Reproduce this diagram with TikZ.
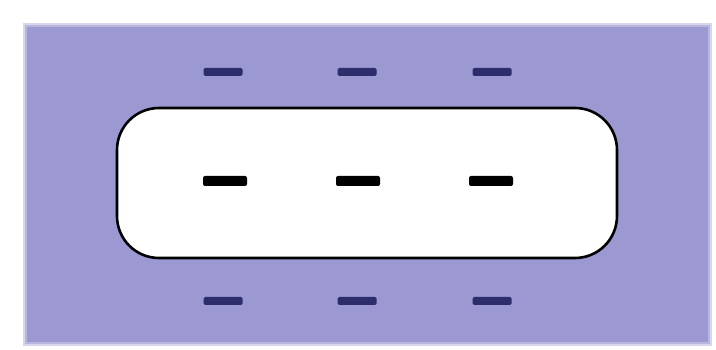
\documentclass[tikz,border=0pt]{standalone}
\definecolor{bandfill}{HTML}{9C98D2}
\definecolor{outercharge}{HTML}{2E2D6B}
\tikzset{
  x=1pt, y=-1pt,
  band/.style={fill=bandfill, draw=none},
  channel/.style={draw=black, line width=2.6pt, fill=white, rounded corners=42pt,
    minimum width=500pt, minimum height=150pt, inner sep=0pt},
  innercharge/.style={fill=black, rounded corners=2pt, minimum width=44pt,
    minimum height=10pt, inner sep=0pt},
  outercharge/.style={fill=outercharge, rounded corners=1.5pt, minimum width=39pt,
    minimum height=8pt, inner sep=0pt}
}
\begin{document}
\begin{tikzpicture}
  \useasboundingbox (0,0) rectangle (716,350);
  \fill[white] (0,0) rectangle (716,350);
  % soft-edged coloured slab
  \fill[bandfill!40] (23,23) rectangle (712,346);
  \fill[bandfill!70] (25,25) rectangle (710,344);
  \fill[bandfill] (27,27) rectangle (708,342);
  % white channel with rounded ends
  \node[channel] (chan) at (367,183) {};
  % charges inside the channel
  \node[innercharge] (i1) at (225,181) {};
  \node[innercharge] (i2) at (358,181) {};
  \node[innercharge] (i3) at (491,181) {};
  % charges above and below
  \node[outercharge] (a1) at (223,72) {};
  \node[outercharge] (a2) at (357,72) {};
  \node[outercharge] (a3) at (492,72) {};
  \node[outercharge] (b1) at (223,301) {};
  \node[outercharge] (b2) at (357,301) {};
  \node[outercharge] (b3) at (492,301) {};
\end{tikzpicture}
\end{document}
